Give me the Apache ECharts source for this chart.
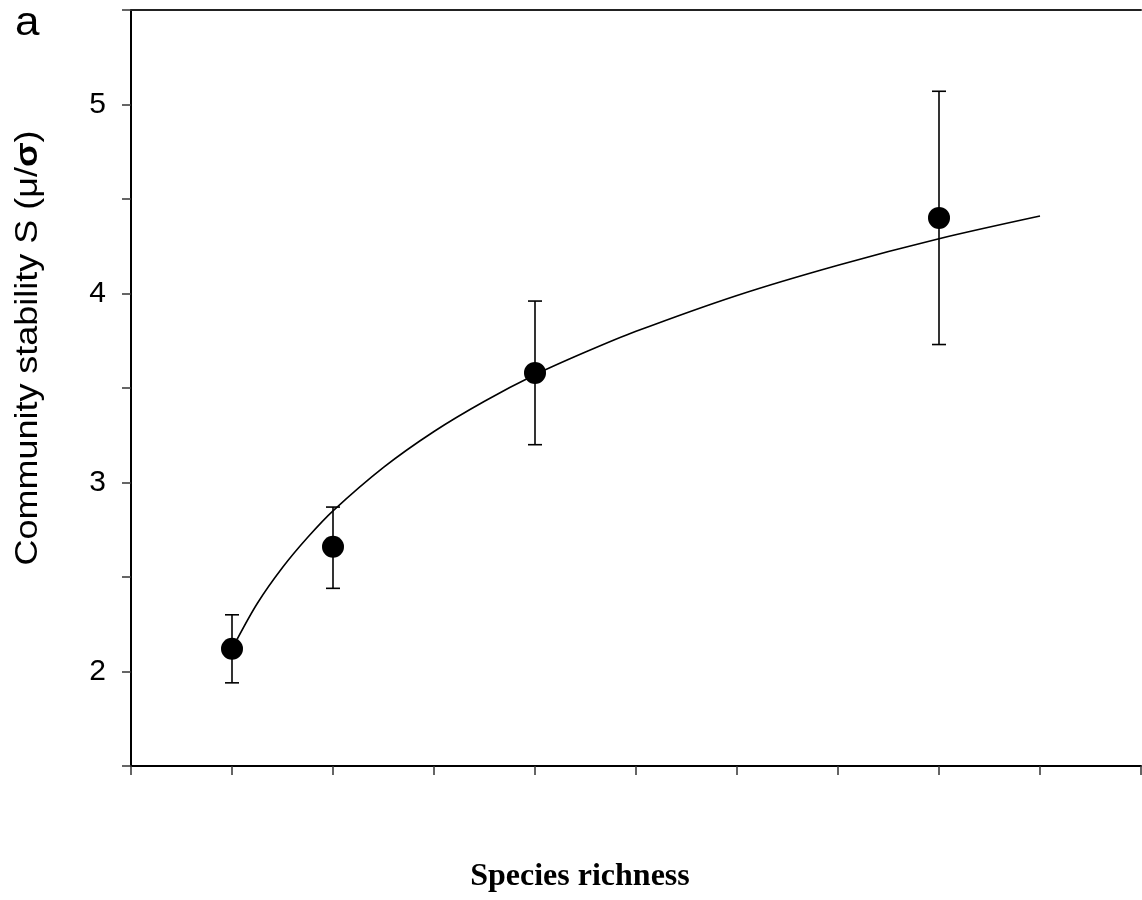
<!DOCTYPE html>
<html>
<head>
<meta charset="utf-8">
<script src="https://cdn.jsdelivr.net/npm/echarts@6/dist/echarts.min.js"></script>
<style>
  html, body { margin: 0; padding: 0; background: #fff; }
  #chart { width: 1142px; height: 900px; }
</style>
</head>
<body>
<div id="chart"></div>
<script>
// species richness of the plots and the measured stability
const richness = [1, 2, 4, 8]
const stability = [2.12, 2.66, 3.58, 4.40]
const errLow = [1.94, 2.44, 3.20, 3.73]
const errHigh = [2.30, 2.87, 3.96, 5.07]

// fitted curve
const fitX = [1.05, 1.25, 1.5, 1.75, 2, 2.5, 3, 3.5, 4, 4.5, 5, 6, 7, 8, 9]
const fitY = [2.17, 2.36, 2.55, 2.71, 2.85, 3.08, 3.27, 3.43, 3.57, 3.69, 3.80, 3.99, 4.15, 4.29, 4.41]

const yTickLabels = ['2', '3', '4', '5']

const chart = echarts.init(document.getElementById('chart'))

const option = {
  animation: false,
  backgroundColor: '#fff',
  grid: { left: 131, top: 10, width: 1010, height: 756 },
  xAxis: [
    {
      type: 'value',
      min: 0,
      max: 10,
      interval: 1,
      axisLine: { lineStyle: { color: '#000', width: 2 } },
      axisTick: { length: 9, lineStyle: { color: '#333', width: 1.5 } },
      axisLabel: { show: false },
      splitLine: { show: false }
    },
    {
      // top frame line
      type: 'value',
      position: 'top',
      min: 0,
      max: 10,
      axisLine: { show: true, lineStyle: { color: '#222', width: 2 } },
      axisTick: { show: false },
      axisLabel: { show: false },
      splitLine: { show: false }
    }
  ],
  yAxis: {
    type: 'value',
    min: 1.5,
    max: 5.5,
    interval: 0.5,
    axisLine: { show: true, lineStyle: { color: '#000', width: 2 } },
    axisTick: { length: 9, lineStyle: { color: '#333', width: 1.5 } },
    axisLabel: {
      margin: 25,
      fontFamily: 'Liberation Sans, Arial, sans-serif',
      fontSize: 30,
      color: '#000',
      formatter: v => yTickLabels.includes(String(v)) ? String(v) : ''
    },
    splitLine: { show: false }
  },
  graphic: [
    {
      type: 'text',
      left: 15,
      top: 4,
      scaleX: 1.1,
      style: {
        text: 'a',
        fontFamily: 'Liberation Sans, Arial, sans-serif',
        fontSize: 40,
        fill: '#000'
      }
    },
    {
      type: 'text',
      x: 28,
      y: 348,
      rotation: Math.PI / 2,
      scaleX: 1.16,
      style: {
        text: 'Community stability S (μ/{b|σ})',
        align: 'center',
        verticalAlign: 'middle',
        fontFamily: 'Liberation Sans, Arial, sans-serif',
        fontSize: 31,
        fill: '#000',
        rich: {
          b: { fontWeight: 'bold', fontSize: 31, fontFamily: 'Liberation Sans, Arial, sans-serif' }
        }
      }
    },
    {
      type: 'text',
      x: 580,
      y: 877,
      style: {
        text: 'Species richness',
        align: 'center',
        verticalAlign: 'middle',
        fontFamily: 'Liberation Serif, Times New Roman, serif',
        fontWeight: 'bold',
        fontSize: 32,
        fill: '#000'
      }
    }
  ],
  series: [
    {
      type: 'line',
      data: fitX.map((x, i) => [x, fitY[i]]),
      smooth: 0.3,
      showSymbol: false,
      lineStyle: { color: '#000', width: 1.6 },
      z: 2
    },
    {
      type: 'custom',
      data: richness.map((x, i) => [x, errLow[i], errHigh[i]]),
      renderItem: (params, api) => {
        const lo = api.coord([api.value(0), api.value(1)])
        const hi = api.coord([api.value(0), api.value(2)])
        const cap = 7
        const style = { stroke: '#000', lineWidth: 1.6 }
        return {
          type: 'group',
          children: [
            { type: 'line', shape: { x1: lo[0], y1: lo[1], x2: hi[0], y2: hi[1] }, style },
            { type: 'line', shape: { x1: lo[0] - cap, y1: lo[1], x2: lo[0] + cap, y2: lo[1] }, style },
            { type: 'line', shape: { x1: hi[0] - cap, y1: hi[1], x2: hi[0] + cap, y2: hi[1] }, style }
          ]
        }
      },
      z: 3
    },
    {
      type: 'scatter',
      data: richness.map((x, i) => [x, stability[i]]),
      symbol: 'circle',
      symbolSize: 22,
      itemStyle: { color: '#000', opacity: 1 },
      z: 4
    }
  ]
}

chart.setOption(option)
</script>
</body>
</html>
